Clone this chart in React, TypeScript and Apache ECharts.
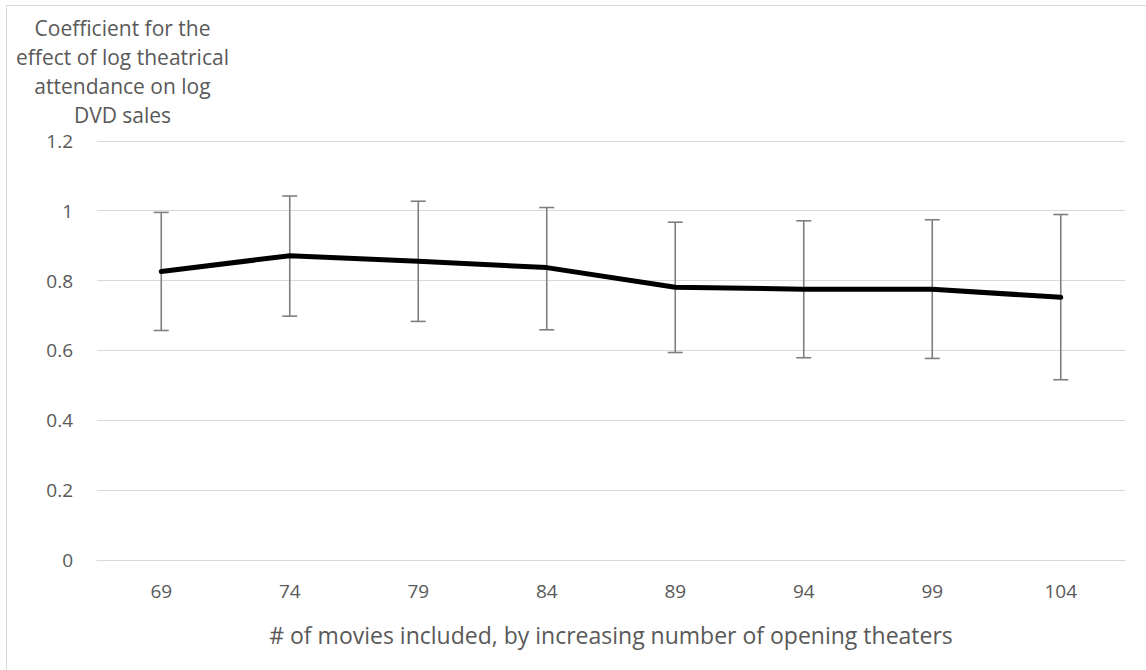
import React, { useEffect, useRef } from "react";
import * as echarts from "echarts";

const categories = ["69", "74", "79", "84", "89", "94", "99", "104"];
const coefficients = [0.826, 0.871, 0.855, 0.837, 0.781, 0.775, 0.775, 0.752];
const upperBounds = [0.995, 1.042, 1.027, 1.009, 0.967, 0.971, 0.974, 0.989];
const lowerBounds = [0.657, 0.698, 0.683, 0.659, 0.594, 0.579, 0.577, 0.516];
const yTitleLines = ["Coefficient for the", "effect of log theatrical", "attendance on log", "DVD sales"];
const xTitle = "# of movies included, by increasing number of opening theaters";

const FONT = "'Open Sans', 'Noto Sans', sans-serif";
const TEXT = "#595959";

export default function App() {
  const ref = useRef<HTMLDivElement>(null);
  useEffect(() => {
    if (!ref.current) return;
    const chart = echarts.init(ref.current, undefined, { renderer: "svg" });
    const errData = categories.map((_, i) => [i, lowerBounds[i], upperBounds[i]]);
    chart.setOption({
      animation: false,
      backgroundColor: "#ffffff",
      textStyle: { fontFamily: FONT },
      grid: { left: 97, right: 21, top: 140.8, bottom: 110 },
      xAxis: {
        type: "category",
        data: categories,
        boundaryGap: true,
        axisLine: { lineStyle: { color: "#d9d9d9", width: 1 } },
        axisTick: { show: false },
        axisLabel: { color: TEXT, fontSize: 19, margin: 21, fontFamily: FONT },
        name: xTitle,
        nameLocation: "middle",
        nameGap: 63,
        nameTextStyle: { color: TEXT, fontSize: 23, fontFamily: FONT },
      },
      yAxis: {
        type: "value",
        min: 0,
        max: 1.2,
        interval: 0.2,
        axisLine: { show: false },
        axisTick: { show: false },
        splitLine: { lineStyle: { color: "#d9d9d9", width: 1 } },
        axisLabel: { color: TEXT, fontSize: 19, margin: 24, fontFamily: FONT },
      },
      graphic: [
        {
          type: "rect",
          shape: { x: 6.5, y: 5.5, width: 1200, height: 700 },
          style: { fill: "none", stroke: "#d9d9d9", lineWidth: 1 },
          silent: true,
        },
        ...yTitleLines.map((t, i) => ({
          type: "text",
          x: 122.5,
          y: 28 + i * 29,
          style: {
            text: t,
            fill: TEXT,
            fontSize: 21,
            fontFamily: FONT,
            align: "center",
            verticalAlign: "middle",
          },
        })),
      ],
      series: [
        {
          type: "custom",
          data: errData,
          z: 1,
          renderItem: (params: any, api: any) => {
            const x = api.value(0);
            const lo = api.coord([x, api.value(1)]);
            const hi = api.coord([x, api.value(2)]);
            const hw = 7.5;
            const style = { stroke: "#7f7f7f", lineWidth: 1.6, fill: "none" };
            return {
              type: "group",
              children: [
                { type: "line", shape: { x1: lo[0], y1: lo[1], x2: hi[0], y2: hi[1] }, style },
                { type: "line", shape: { x1: lo[0] - hw, y1: lo[1], x2: lo[0] + hw, y2: lo[1] }, style },
                { type: "line", shape: { x1: hi[0] - hw, y1: hi[1], x2: hi[0] + hw, y2: hi[1] }, style },
              ],
            };
          },
        },
        {
          type: "line",
          data: coefficients,
          z: 2,
          symbol: "none",
          lineStyle: { color: "#000000", width: 5, cap: "round", join: "round" },
        },
      ],
    });
    return () => chart.dispose();
  }, []);
  return (
    <div
      ref={ref}
      style={{ position: "absolute", left: 0, top: 0, width: 1146, height: 670 }}
    />
  );
}
